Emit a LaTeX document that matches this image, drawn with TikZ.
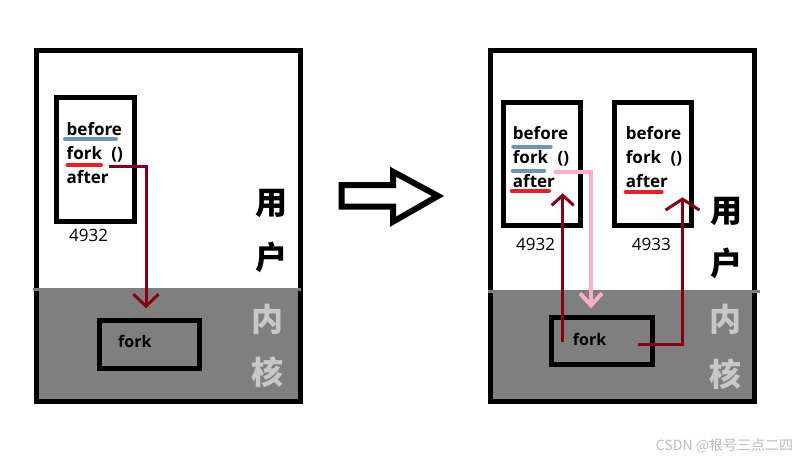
\documentclass[tikz,border=0pt]{standalone}
\usepackage{fontspec}
\setmainfont{Open Sans}
\newfontfamily\cjk{Noto Sans CJK SC}
\usetikzlibrary{arrows.meta}
\definecolor{dred}{HTML}{880015}
\definecolor{pred}{HTML}{ED1C24}
\definecolor{pblue}{HTML}{7092BE}
\definecolor{ppink}{HTML}{FFAEC9}
\definecolor{kgray}{HTML}{7F7F7F}
\definecolor{lgray}{HTML}{C8C8C8}
\definecolor{wmgray}{HTML}{BDBDBD}
\begin{document}
\begin{tikzpicture}[x=1pt,y=-1pt,
  frame/.style={draw=black, line width=5pt},
  kfill/.style={fill=kgray},
  kline/.style={draw=kgray, line width=3pt},
  pbox/.style={draw=black, line width=5pt, rectangle, inner sep=0pt},
  code/.style={font=\fontsize{17}{17}\selectfont\bfseries, inner sep=0pt, anchor=base west},
  kcode/.style={font=\fontsize{16}{16}\selectfont\bfseries, inner sep=0pt, anchor=base west},
  pid/.style={font=\fontsize{17}{17}\selectfont, inner sep=0pt, anchor=base west},
  zh/.style={font=\cjk\fontsize{32}{32}\selectfont\bfseries, inner sep=0pt},
  zhk/.style={zh, text=lgray},
  uline/.style={line width=4pt, line cap=round},
  conn/.style={draw=dred, line width=3pt},
  pconn/.style={draw=ppink, line width=4pt},
  bigarrow/.style={draw=black, line width=6pt, fill=white, line join=miter}
]
\useasboundingbox (0,0) rectangle (810,463);
\fill[white] (0,0) rectangle (810,463);

% ---------------- left panel ----------------
\fill[kfill] (36.5,289.5) rectangle (300.5,401.5);
\node[frame, rectangle, minimum width=264pt, minimum height=351pt, inner sep=0pt] (outL) at (168.5,226) {};
\coordinate (gLa) at (33,289.5);
\coordinate (gLb) at (301,289.5);
\draw[kline] (gLa) -- (gLb);

\node[pbox, minimum width=78pt, minimum height=124pt] (pL) at (95.5,159.5) {};
\node[code] (bfL) at (66.5,135) {before};
\node[code] (fkL) at (66.5,159) {fork\hspace{0.55em}()};
\node[code] (afL) at (66.5,183) {after};
\node[pid] (idL) at (69,241.5) {4932};

\coordinate (ubL1) at (65,139.2);  \coordinate (ubL2) at (116,139.2);
\coordinate (urL1) at (67.5,165.3); \coordinate (urL2) at (101,165.3);
\draw[uline, pblue] (ubL1) -- (ubL2);
\draw[uline, pred] (urL1) -- (urL2);

\node[pbox, minimum width=100pt, minimum height=48pt] (kL) at (149.2,344.6) {};
\node[kcode] (kfL) at (118,347) {fork};

\node[zh] (uL1) at (271.5,203) {用};
\node[zh] (uL2) at (271.5,257.5) {户};
\node[zhk] (nL1) at (267,319) {内};
\node[zhk] (nL2) at (267,372) {核};

\coordinate (cL0) at (109,166.3);
\coordinate (cLt) at (146,308.3);
\draw[conn, -{Straight Barb[length=12pt, width=25pt]}] (cL0) -| (cLt);

% ---------------- middle arrow ----------------
\coordinate (a1) at (341.7,185);
\coordinate (a2) at (393,185);
\coordinate (a3) at (393,171.7);
\coordinate (a4) at (438,196);
\coordinate (a5) at (393,221.7);
\coordinate (a6) at (393,206.7);
\coordinate (a7) at (341.7,206.7);
\draw[bigarrow] (a1) -- (a2) -- (a3) -- (a4) -- (a5) -- (a6) -- (a7) -- cycle;

% ---------------- right panel ----------------
\fill[kfill] (490.5,291) rectangle (754.5,401.5);
\node[frame, rectangle, minimum width=264pt, minimum height=351pt, inner sep=0pt] (outR) at (622.5,226) {};
\coordinate (gRa) at (488,291);
\coordinate (gRb) at (760,291);
\draw[kline] (gRa) -- (gRb);

\node[pbox, minimum width=77pt, minimum height=123.5pt] (pR1) at (541.5,164.2) {};
\node[pbox, minimum width=77pt, minimum height=123.5pt] (pR2) at (653.3,164.2) {};

\node[code] (bfR1) at (512.7,139) {before};
\node[code] (fkR1) at (512.7,163) {fork\hspace{0.55em}()};
\node[code] (afR1) at (512.7,187) {after};
\node[code] (bfR2) at (625.7,139) {before};
\node[code] (fkR2) at (625.7,163) {fork\hspace{0.55em}()};
\node[code] (afR2) at (625.7,187) {after};
\node[pid] (idR1) at (516,250) {4932};
\node[pid] (idR2) at (631.7,250) {4933};

\coordinate (ubR1) at (513.3,146.7); \coordinate (ubR2) at (550.7,146.7);
\coordinate (ubR3) at (512.7,170.5); \coordinate (ubR4) at (544.3,170.5);
\coordinate (urR1) at (511.7,191.2); \coordinate (urR2) at (549,191.2);
\coordinate (urR3) at (625.7,192);   \coordinate (urR4) at (661.7,192);
\draw[uline, pblue] (ubR1) -- (ubR2);
\draw[uline, pblue] (ubR3) -- (ubR4);
\draw[uline, pred] (urR1) -- (urR2);
\draw[uline, pred] (urR3) -- (urR4);

\node[pbox, minimum width=100.7pt, minimum height=47pt] (kR) at (602.2,341.3) {};
\node[kcode] (kfR) at (572.7,345) {fork};

\node[zh] (uR1) at (726,211) {用};
\node[zh] (uR2) at (726,263) {户};
\node[zhk] (nR1) at (725,319) {内};
\node[zhk] (nR2) at (725,374) {核};

\coordinate (pk0) at (554,171.5);
\coordinate (pkt) at (591,308.3);
\draw[pconn, -{Straight Barb[length=12pt, width=22pt]}] (pk0) -| (pkt);

\coordinate (r10) at (562.7,341.7);
\coordinate (r1t) at (562.7,193.3);
\draw[conn, -{Straight Barb[length=10pt, width=22pt]}] (r10) -- (r1t);

\coordinate (r20) at (638.3,344);
\coordinate (r2t) at (682.5,197.3);
\draw[conn, -{Straight Barb[length=11pt, width=34pt]}] (r20) -| (r2t);

\node[font=\cjk\fontsize{14}{14}\selectfont, text=wmgray, inner sep=0pt] (wm) at (724.5,446) {CSDN @根号三点二四};
\end{tikzpicture}
\end{document}
